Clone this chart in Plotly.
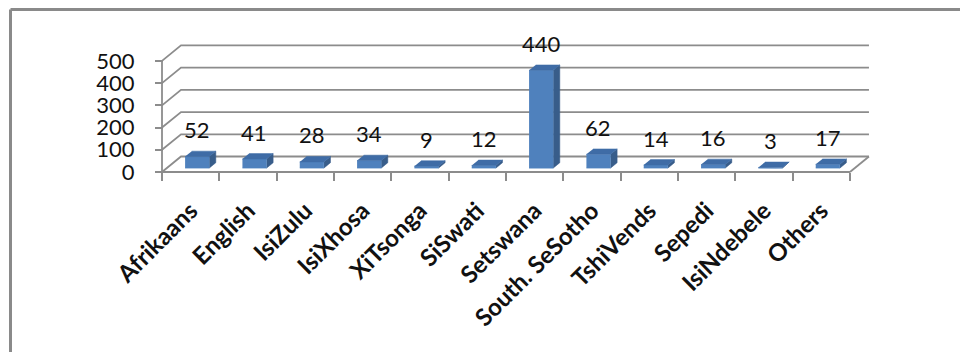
import plotly.graph_objects as go

# Home-language counts
categories = ["Afrikaans", "English", "IsiZulu", "IsiXhosa", "XiTsonga", "SiSwati",
              "Setswana", "South. SeSotho", "TshiVends", "Sepedi", "IsiNdebele", "Others"]
counts = [52, 41, 28, 34, 9, 12, 440, 62, 14, 16, 3, 17]
y_ticks = [0, 100, 200, 300, 400, 500]

# Pseudo-3D geometry (data units): category index on x, count on y
W, H = 960, 352
CAT_PX = 57.33          # pixels per category
X0_PX = 162.0           # left edge of first category (front)
VAL_PX = 0.2222         # pixels per count unit
Y0_PX = 172.0           # front floor line
DEPTH_X = 19.0 / CAT_PX         # full depth offset in category units
DEPTH_Y = 15.5 / VAL_PX         # full depth offset in count units

x_range = [(0 - X0_PX) / CAT_PX - 0.5, (W - X0_PX) / CAT_PX - 0.5]
y_range = [(Y0_PX - H) / VAL_PX, Y0_PX / VAL_PX]

GRID = "#8c8c8c"
FRONT = "#4f81bd"
SIDE = "#385d8a"
TOP = "#3f6ca6"
FONT = "Lato"

n = len(categories)
x_left = -0.5
x_right = n - 0.5


def proj(x, v, z):
    return x + z * DEPTH_X, v + z * DEPTH_Y


fig = go.Figure()


def poly(pts, color, width=0, fill=True):
    xs = [p[0] for p in pts]
    ys = [p[1] for p in pts]
    fig.add_trace(go.Scatter(
        x=xs, y=ys, mode="lines",
        fill="toself" if fill else None,
        fillcolor=color if fill else None,
        line=dict(color=color, width=width),
        hoverinfo="skip", showlegend=False,
    ))


# Side wall + back wall gridlines
for v in y_ticks:
    a = proj(x_left, v, 0)
    b = proj(x_left, v, 1)
    c = proj(x_right, v, 1)
    poly([a, b, c], GRID, width=1.8, fill=False)

# Floor right edge
poly([proj(x_right, 0, 0), proj(x_right, 0, 1)], GRID, width=1.8, fill=False)

# Front axes
poly([(x_left, 0), (x_right, 0)], GRID, width=1.8, fill=False)
poly([(x_left, 0), (x_left, max(y_ticks))], GRID, width=1.8, fill=False)

# Bars
FL, FR = 0.32, 0.74     # bar extent within a category slot
Z1, Z2 = 0.25, 0.60     # bar extent in depth
for i, v in enumerate(counts):
    xl = i - 0.5 + FL
    xr = i - 0.5 + FR
    # side face
    poly([proj(xr, 0, Z1), proj(xr, 0, Z2), proj(xr, v, Z2), proj(xr, v, Z1)], SIDE, width=0.5)
    # front face
    poly([proj(xl, 0, Z1), proj(xr, 0, Z1), proj(xr, v, Z1), proj(xl, v, Z1)], FRONT, width=0.5)
    # top face
    poly([proj(xl, v, Z1), proj(xr, v, Z1), proj(xr, v, Z2), proj(xl, v, Z2)], TOP, width=0.5)

    lx, ly = proj((xl + xr) / 2, v, Z1)
    fig.add_annotation(x=lx, y=ly, text=str(v), showarrow=False, yshift=27,
                       xanchor="center", yanchor="middle",
                       font=dict(family=FONT, size=22, color="#111111"))

# Chart frame
fig.add_shape(type="line", xref="paper", yref="paper",
              x0=10.5 / W, x1=1.0, y0=1 - 9.5 / H, y1=1 - 9.5 / H,
              line=dict(color="#8a8a8a", width=3))
fig.add_shape(type="line", xref="paper", yref="paper",
              x0=10.5 / W, x1=10.5 / W, y0=0, y1=1 - 9.5 / H,
              line=dict(color="#8a8a8a", width=3))

fig.update_layout(
    width=W, height=H,
    margin=dict(l=0, r=0, t=0, b=0),
    paper_bgcolor="white", plot_bgcolor="white",
    showlegend=False,
    xaxis=dict(
        range=x_range, anchor="free", position=(H - Y0_PX) / H,
        showgrid=False, zeroline=False, showline=False,
        tickmode="array", tickvals=list(range(n)), ticktext=categories,
        ticks="", tickangle=-45, ticklabelstandoff=19,
        tickfont=dict(family=FONT, size=24, color="#111111", weight="bold"),
        minor=dict(tickmode="array", tickvals=[i - 0.5 for i in range(n + 1)],
                   ticks="outside", ticklen=8, tickcolor=GRID, tickwidth=1.8),
        fixedrange=True,
    ),
    yaxis=dict(
        range=y_range, anchor="free", position=(X0_PX + 1) / W,
        showgrid=False, zeroline=False, showline=False,
        tickmode="array", tickvals=y_ticks, ticktext=[str(t) for t in y_ticks],
        ticks="outside", ticklen=8, tickcolor=GRID, tickwidth=1.8,
        ticklabelstandoff=16,
        tickfont=dict(family=FONT, size=22, color="#111111"),
        fixedrange=True,
    ),
)

fig.write_html("out.html")
